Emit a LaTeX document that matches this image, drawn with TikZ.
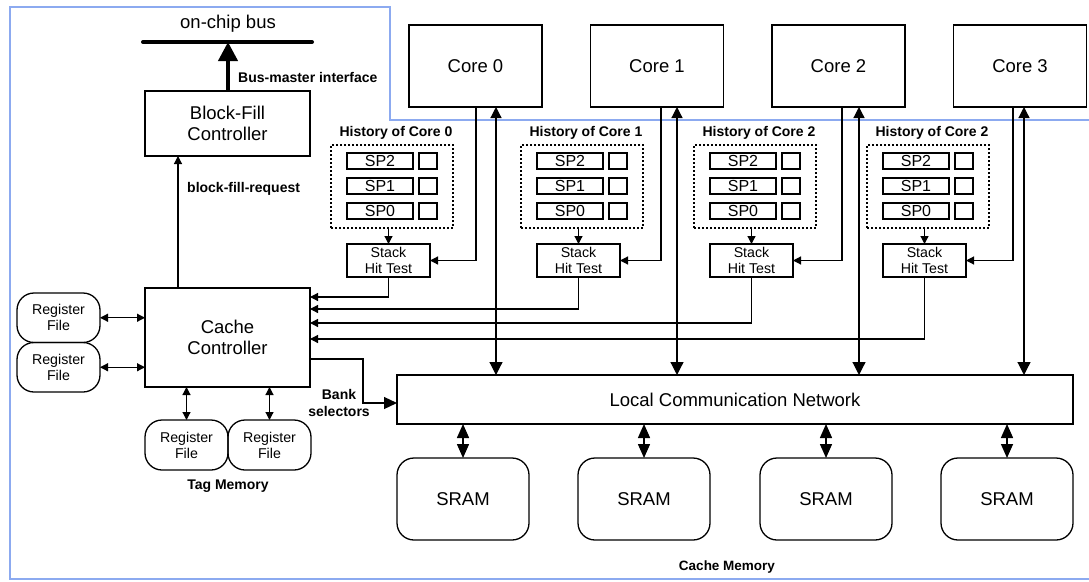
\documentclass[tikz,border=0pt]{standalone}
\usepackage{fontspec}
\setmainfont{Liberation Sans}
\usetikzlibrary{arrows.meta,calc}
\definecolor{framecol}{RGB}{140,170,240}
\begin{document}
\begin{tikzpicture}[x=1pt,y=-1pt,
  box/.style={draw, line width=1.3pt, inner sep=0pt, outer sep=0pt, align=center, font=\fontsize{18.5}{21}\selectfont},
  smallbox/.style={box, font=\fontsize{14.2}{16}\selectfont},
  rbox/.style={rounded corners=17pt},
  spbox/.style={draw, line width=1.2pt, inner sep=0pt, outer sep=0pt, minimum width=66pt, minimum height=16pt, font=\fontsize{16}{16}\selectfont},
  sqbox/.style={draw, line width=1.2pt, inner sep=0pt, outer sep=0pt, minimum width=18pt, minimum height=16pt},
  histbox/.style={draw, dash pattern=on 2pt off 2pt, line width=1.2pt, inner sep=0pt, outer sep=0pt, minimum width=122pt, minimum height=83pt},
  lbl/.style={font=\bfseries\fontsize{14}{17}\selectfont, inner sep=0pt, align=center},
  wire/.style={line width=1.2pt},
  arr/.style={wire, -{Triangle[length=8pt,width=8pt]}},
  darr/.style={wire, {Triangle[length=8pt,width=8pt]}-{Triangle[length=8pt,width=8pt]}},
  bigarr/.style={wire, -{Triangle[length=13pt,width=12pt]}},
  corearr/.style={wire, {Triangle[length=11pt,width=11pt]}-{Triangle[length=13pt,width=13pt]}},
  sramarr/.style={line width=1.5pt, {Triangle[length=14pt,width=12pt]}-{Triangle[length=14pt,width=12pt]}},
  frameline/.style={draw=framecol, line width=2.5pt}
]
\useasboundingbox (0,0) rectangle (1089,581);

% frame
\draw[frameline] (1089,120) -- (390,120) -- (390,7) -- (10,7) -- (10,579) -- (1089,579);

% bus
\node[font=\fontsize{18.5}{21}\selectfont, inner sep=0pt] (bustext) at (228,24) {on-chip bus};
\coordinate (busL) at (143,42);
\coordinate (busR) at (312,42);
\coordinate (busM) at (228,42);
\draw[line width=4pt, line cap=round] (busL) -- (busR);

% block-fill controller
\node[box, minimum width=165pt, minimum height=65pt] (bfc) at (227.5,123.5) {Block-Fill\\Controller};
\draw[line width=4pt, -{Triangle[length=19pt,width=19pt]}] (bfc.north -| busM) -- (busM);
\node[lbl, anchor=west] (bmi) at (238,77) {Bus-master interface};

% cache controller
\node[box, minimum width=165pt, minimum height=99pt] (cc) at (227.5,337.5) {Cache\\Controller};
\coordinate (bfx) at (178,0);
\draw[arr] (cc.north -| bfx) -- (bfc.south -| bfx);
\node[lbl, anchor=west] (bfr) at (187,189) {block-fill-request};

% register files left
\node[smallbox, rbox, minimum width=83pt, minimum height=49.5pt] (rf1) at (58.5,317.75) {Register\\File};
\node[smallbox, rbox, minimum width=83pt, minimum height=49.5pt] (rf2) at (58.5,367.25) {Register\\File};
\draw[darr] (rf1.east) -- (rf1.east -| cc.west);
\draw[darr] (rf2.east) -- (rf2.east -| cc.west);

% tag memory
\node[smallbox, rbox, minimum width=83pt, minimum height=50pt] (tm1) at (186.5,445) {Register\\File};
\node[smallbox, rbox, minimum width=83pt, minimum height=50pt] (tm2) at (269.5,445) {Register\\File};
\draw[darr] (tm1.north) -- (tm1.north |- cc.south);
\draw[darr] (tm2.north) -- (tm2.north |- cc.south);
\node[lbl] (tagm) at (228,486) {Tag Memory};

% local communication network
\node[box, minimum width=676pt, minimum height=49pt] (lcn) at (735,399.5) {Local Communication Network};

% bank selectors
\coordinate (bsy) at (0,359);
\coordinate (bsx) at (363,403);
\draw[bigarr] (cc.east |- bsy) -| (bsx) -- (bsx -| lcn.west);
\node[lbl, font=\bfseries\fontsize{14}{17}\selectfont] (bank) at (339,403) {Bank\\selectors};

% SRAMs
\foreach \j/\sx in {1/397,2/578,3/760,4/941}{
  \node[box, rbox, minimum width=132pt, minimum height=82pt] (sram\j) at (\sx+66,499) {SRAM};
  \draw[sramarr] (sram\j.north) -- (sram\j.north |- lcn.south);
}
\node[lbl, font=\bfseries\fontsize{13.5}{16}\selectfont] (cmem) at (727,567) {Cache Memory};

% cores and histories
\foreach \i/\hx/\cx/\dx/\bx/\yo/\lab in {0/331/409/476/496/297/0, 1/521/590.5/661/677/309/1, 2/694/772/842/859/323/2, 3/867/953.5/1013/1024/339/2}{
  \node[box, minimum width=133pt, minimum height=82pt] (core\i) at (\cx+66.5,66) {Core \i};
  \node[lbl] (hl\i) at (\hx+65,133) {History of Core \lab};
  \node[histbox] (hist\i) at (\hx+61,186.5) {};
  \foreach \r/\yy in {2/161,1/186,0/211}{
    \node[spbox] (sp\i\r) at (\hx+49,\yy) {SP\r};
    \node[sqbox] (sq\i\r) at (\hx+97,\yy) {};
  }
  \node[smallbox, minimum width=83pt, minimum height=33pt] (sht\i) at (\hx+57.5,260.5) {Stack\\Hit Test};
  \coordinate (dn\i) at (\dx,0);
  \coordinate (bd\i) at (\bx,0);
  \coordinate (yo\i) at (0,\yo);
  \draw[arr] (hist\i.south -| sht\i.north) -- (sht\i.north);
  \draw[arr] (core\i.south -| dn\i) |- (sht\i.east);
  \draw[arr] (sht\i.south) |- (cc.east |- yo\i);
  \draw[corearr] (core\i.south -| bd\i) -- (lcn.north -| bd\i);
}
\end{tikzpicture}
\end{document}
